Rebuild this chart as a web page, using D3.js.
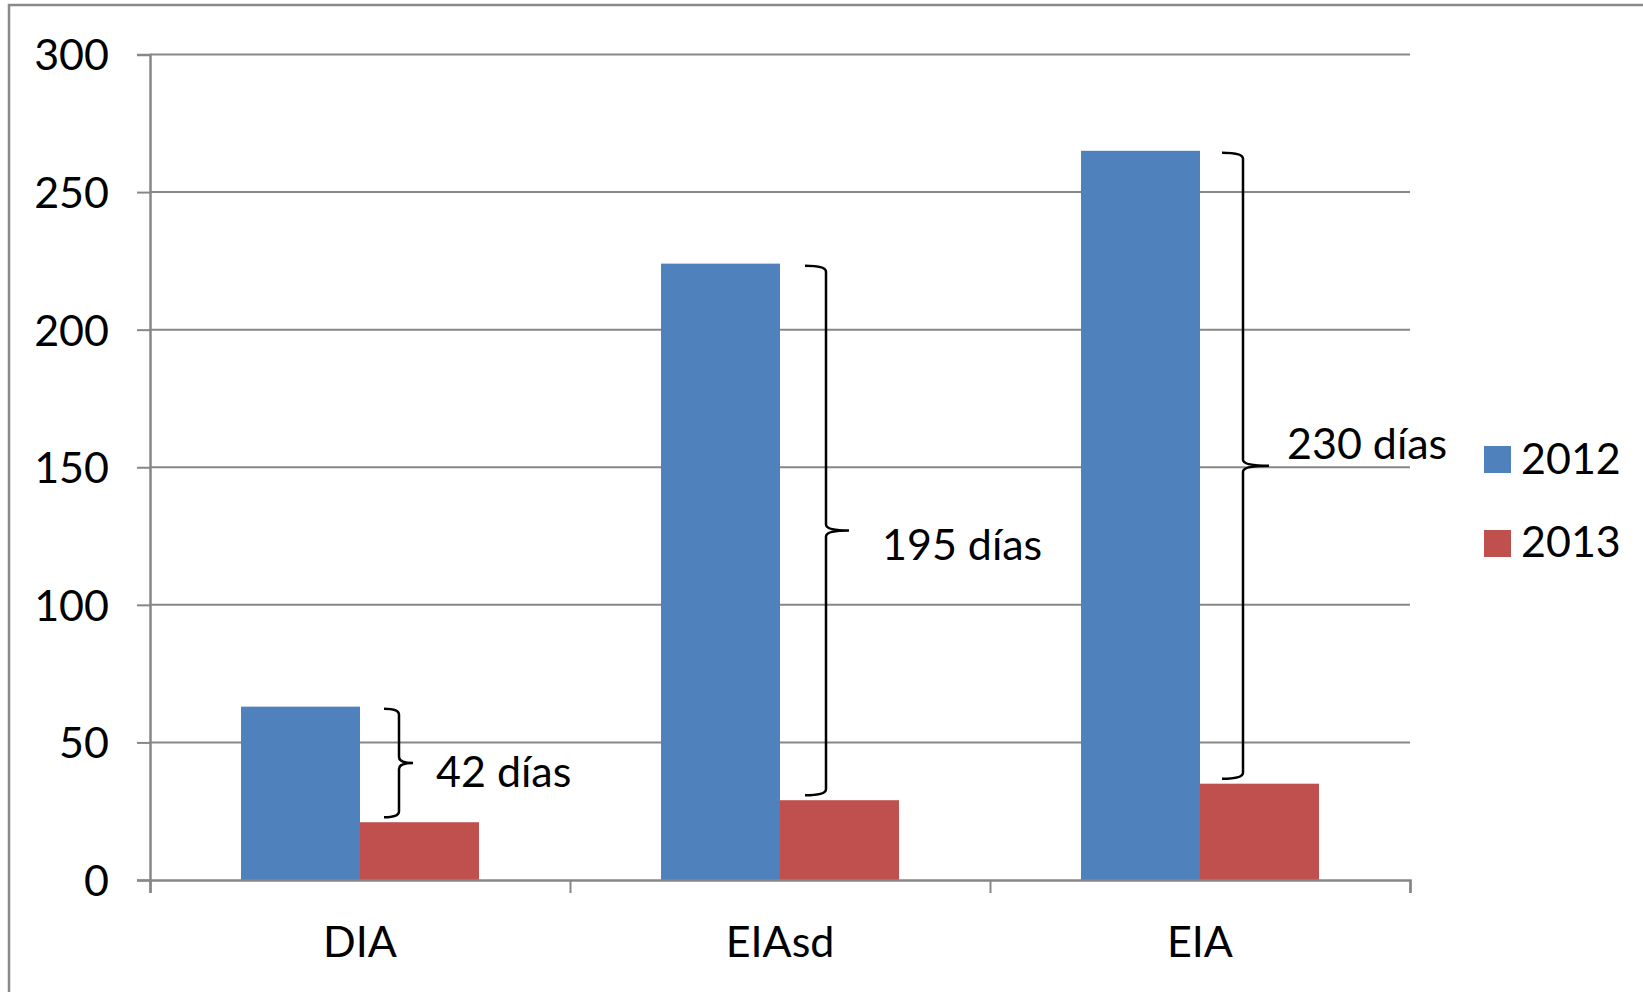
<!DOCTYPE html>
<html>
<head>
<meta charset="utf-8">
<script src="https://cdn.jsdelivr.net/npm/d3@7"></script>
<style>
  html, body { margin: 0; padding: 0; background: #fff; }
  svg { display: block; }
  text { font-family: Lato, "Open Sans", sans-serif; fill: #000; }
</style>
</head>
<body>
<svg id="chart" width="1643" height="992"></svg>
<script>
// ---- data ----
const categories = ["DIA", "EIAsd", "EIA"];
const seriesNames = ["2012", "2013"];
const values2012 = [63, 224, 265];
const values2013 = [21, 29, 35];
const yTicks = [0, 50, 100, 150, 200, 250, 300];
const annotationLabels = ["42 días", "195 días", "230 días"];
const colors = ["#4F81BD", "#C0504D"];

// ---- layout ----
const W = 1643, H = 992;
const plot = { left: 150, right: 1410, top: 54.5, bottom: 880 };
const fontSize = 43;
const gridColor = "#878787";
// bracket geometry per annotation (pixel offsets from blue bar's right edge / tip)
const bracketLayout = [
  { hook: 24, vert: 39, tip: 14, lx: 23, ly: 24 },
  { hook: 25, vert: 46, tip: 23, lx: 33, ly: 30 },
  { hook: 22, vert: 43, tip: 26, lx: 18, ly: -7 }
];

const svg = d3.select("#chart");

// outer frame (open to the right/bottom as in the reference)
svg.append("rect")
  .attr("x", 9).attr("y", 5)
  .attr("width", W + 20).attr("height", H + 20)
  .attr("fill", "none").attr("stroke", "#8a8a8a").attr("stroke-width", 2.5);

const x0 = d3.scaleBand().domain(categories).range([plot.left, plot.right]).paddingInner(0).paddingOuter(0);
const x1 = d3.scaleBand().domain(seriesNames).range([0, x0.bandwidth()]).paddingInner(0).paddingOuter(0.765);
const y = d3.scaleLinear().domain([0, 300]).range([plot.bottom, plot.top]);

// gridlines
svg.append("g").selectAll("line").data(yTicks.filter(d => d > 0)).join("line")
  .attr("x1", plot.left).attr("x2", plot.right)
  .attr("y1", d => y(d)).attr("y2", d => y(d))
  .attr("stroke", gridColor).attr("stroke-width", 2);

// y axis
const yAxis = d3.axisLeft(y).tickValues(yTicks).tickSize(13).tickPadding(28).tickFormat(d3.format("d"));
const gy = svg.append("g").attr("transform", `translate(${plot.left},0)`).call(yAxis);
gy.select(".domain").attr("stroke", gridColor).attr("stroke-width", 2.5);
gy.selectAll(".tick line").attr("stroke", gridColor).attr("stroke-width", 2);
gy.selectAll(".tick text").attr("font-size", fontSize).attr("font-family", "Lato, sans-serif").attr("fill", "#000").attr("dy", "0.36em");

// bars
const data = categories.map((c, i) => ({ cat: c, vals: [values2012[i], values2013[i]] }));
const groups = svg.append("g").selectAll("g").data(data).join("g")
  .attr("transform", d => `translate(${x0(d.cat)},0)`);
groups.selectAll("rect").data(d => d.vals.map((v, j) => ({ s: seriesNames[j], v, j }))).join("rect")
  .attr("x", d => x1(d.s)).attr("width", x1.bandwidth())
  .attr("y", d => y(d.v)).attr("height", d => y(0) - y(d.v))
  .attr("fill", d => colors[d.j]);

// x axis
const xAxisScale = d3.scaleLinear().domain([0, categories.length]).range([plot.left, plot.right]);
const gx = svg.append("g").attr("transform", `translate(0,${plot.bottom})`)
  .call(d3.axisBottom(xAxisScale).tickValues(d3.range(categories.length + 1)).tickSize(13).tickFormat(""));
gx.select(".domain").attr("stroke", gridColor).attr("stroke-width", 2.5);
gx.selectAll(".tick line").attr("stroke", gridColor).attr("stroke-width", 2);
svg.append("g").selectAll("text").data(categories).join("text")
  .attr("x", d => x0(d) + x0.bandwidth() / 2).attr("y", 957)
  .attr("text-anchor", "middle").attr("font-size", fontSize).text(d => d);

// brackets
const bracketG = svg.append("g");
categories.forEach((c, i) => {
  const L = bracketLayout[i];
  const barRight = x0(c) + x1("2012") + x1.bandwidth();
  const yt = y(values2012[i]) + 2;
  const yb = y(values2013[i]) - 5;
  const ym = (yt + yb) / 2;
  const xh = barRight + L.hook, xv = barRight + L.vert, xt = xv + L.tip;
  const r = 6;
  const p = d3.path();
  p.moveTo(xh, yt);
  p.quadraticCurveTo(xv, yt, xv, yt + r);
  p.lineTo(xv, ym - r);
  p.quadraticCurveTo(xv, ym, xt, ym);
  p.quadraticCurveTo(xv, ym, xv, ym + r);
  p.lineTo(xv, yb - r);
  p.quadraticCurveTo(xv, yb, xh, yb);
  bracketG.append("path").attr("d", p.toString())
    .attr("fill", "none").attr("stroke", "#000").attr("stroke-width", 2.5);
  bracketG.append("text").attr("x", xt + L.lx).attr("y", ym + L.ly)
    .attr("font-size", fontSize).text(annotationLabels[i]);
});

// legend
const legend = svg.append("g");
seriesNames.forEach((s, j) => {
  legend.append("rect").attr("x", 1484).attr("y", 446 + j * 84).attr("width", 27).attr("height", 27).attr("fill", colors[j]);
  legend.append("text").attr("x", 1521).attr("y", 474 + j * 83).attr("font-size", fontSize).text(s);
});
</script>
</body>
</html>
